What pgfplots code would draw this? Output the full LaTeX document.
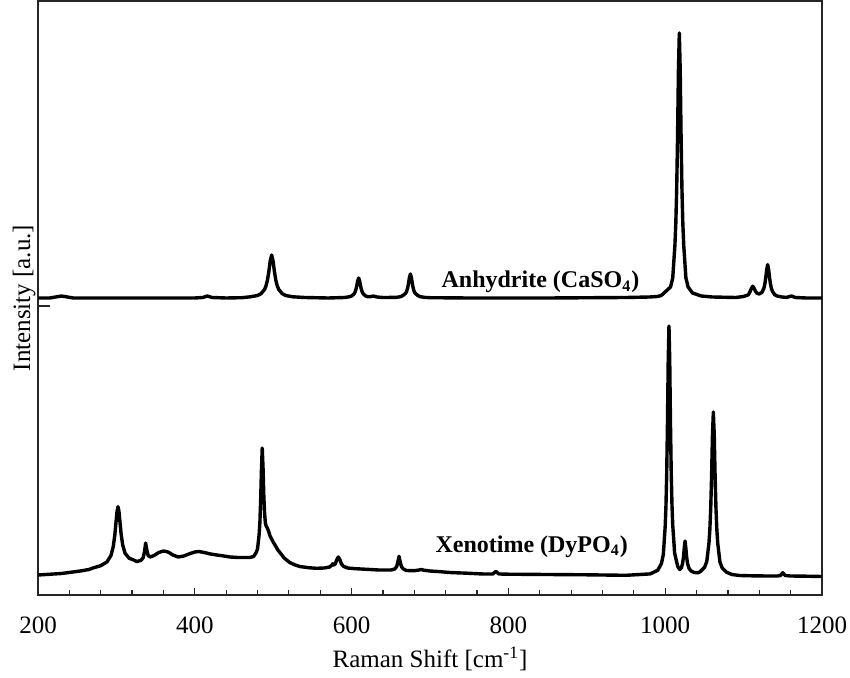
\documentclass[border=0pt]{standalone}
\usepackage{fontspec}
\setmainfont{Liberation Serif}
\usepackage{pgfplots}
\usepackage{pgfplotstable}
\pgfplotsset{compat=1.18}

% Raman spectrum of anhydrite (offset upwards)
\pgfplotstableread{
x y
200 297
215 297
230 299
245 297
300 297
400 297
410 297.5
416 299
422 297.5
440 297
460 297.3
471 298.2
480 299.5
484.5 301.3
489 305.6
490.8 309.1
492.6 314.6
494.4 323.2
496.2 334.1
498 340
499.8 334.1
501.6 323.2
503.4 314.6
505.2 309.1
507 305.6
511.5 301.3
516 299.5
525 298.2
540 297.5
570 297
591 297.5
597 298.2
600 299
603 301
604.2 302.6
605.4 305.2
606.6 309.2
607.8 314.2
609 317
610.2 314.2
611.4 309.2
612.6 305.2
613.8 302.6
615 301
618 299
621 298.2
625 298.5
628 299
632 298
640 297.5
657 297.6
663 298.4
666 299.8
669 301.8
670.2 303.7
671.4 306.8
672.6 311.6
673.8 317.7
675 321
676.2 317.7
677.4 311.6
678.6 306.8
679.8 303.7
681 301.8
684 299.8
687 298.4
693 297.6
700 297.3
750 297
850 297
950 297.5
980 298
990 298.5
995 299.5
1001.2 304
1006.8 308
1009.6 317
1012.4 350
1013.52 371.5
1014.64 405.7
1015.76 458.7
1016.88 525.4
1018 562
1019.12 525.4
1020.24 458.7
1021.36 405.7
1022.48 371.5
1023.6 350
1026.4 317
1029.2 308
1034.8 302
1046 299
1060 298
1090 297.5
1100 298.5
1104.6 299.7
1106.3 300.5
1108.1 303.1
1109.5 305.8
1111.6 308.8
1113.7 306.2
1115.1 303.8
1117 301.8
1120 301
1123.5 302.8
1125.9 306.9
1127.1 311
1128.3 317.6
1129.5 325.8
1130.7 330.4
1131.9 325.7
1133.1 317.4
1134.3 310.8
1135.5 306.5
1136.7 303.8
1139.7 300.3
1142.7 299
1148.7 298
1155 297.6
1161 299
1166 297.5
1180 297
1200 297
}\anhydrite

% Raman spectrum of xenotime
\pgfplotstableread{
x y
200 20
230 21.5
254 24
265 25.5
270 27
280 29.3
288 33.1
293 39.4
296 48.5
298 60.1
299.5 72.7
300.8 83.7
302 88.3
303.2 84
304.5 73.4
306 61.2
308 50.2
311 41.9
316 36.9
322 35
326 33.5
331 34.5
334 37
335.8 43
337.3 52
338.8 45
340.5 39.5
343 38
348 39.5
354 42.5
360 44
366 43
372 40
379 38
386 39
394 41.5
400 43
405 43.5
412 42.5
420 41
428 40
437 39
445 38
455 37.5
463 37.5
470 37.5
475 38.5
478 42
480 46
482 60
483 72
484 95
485 125
486 147
487 128
488 100
489 82
490 72
491 69
492.5 67
494 64
496 59
498 56
500 53
503 49
506 45
509 42
514 37
521 32.5
528 30
534 28.5
545 27.3
555 26.7
565 27
572 28
575 30
576 31.3
577 30
579 31
581 35
583 38
585 35.5
587 31
590 28.5
595 27
605 26.3
619 25.7
635 25
650 25
655 26
657.5 28.5
659 33
660.5 38.7
662 33
663.5 28.5
666 26
670 24.5
680 24.3
686 25
689 25.5
692 24.8
700 24
710 23.5
725 22.5
750 21.7
768 21
780 21
784 23.5
788 21
800 20.8
850 20.5
900 20.2
950 19.7
980.8 21.1
990.4 24.7
995.2 31.5
997.6 40.5
1000 69
1000.96 89.3
1001.92 121.5
1002.88 171.5
1003.84 234.5
1004.8 269
1005.76 234.7
1006.72 171.8
1007.68 122
1008.64 90
1009.6 70
1012 42
1014.4 33.7
1016 28.5
1018.5 25.5
1020.5 27
1022 31
1023.3 38
1024.3 47
1025.3 54
1026.3 47
1027.3 38
1028.6 31
1030.5 26.5
1033 24
1037 22.5
1042 22.3
1044.6 23.3
1050.2 27.7
1053 33.4
1055.8 51.8
1056.92 65.1
1058.04 86.3
1059.16 119
1060.28 160.4
1061.4 183
1062.52 160.4
1063.64 119
1064.76 86.3
1065.88 65.1
1067 51.8
1069.8 33
1072.6 27.2
1078.2 22.8
1085 20.5
1095 19.5
1110 19.2
1130 19
1143 19
1147 19.5
1150 22.3
1153 19.5
1160 19
1180 18.8
1200 18.5
}\xenotime

\begin{document}
\begin{tikzpicture}
\begin{axis}[
  name=ax,
  scale only axis,
  width=392pt, height=297pt,
  xmin=200, xmax=1200,
  ymin=0, ymax=594,
  axis line style={line width=0.6pt, black!85},
  xtick={200,400,...,1200},
  minor x tick num=4,
  xtick pos=bottom,
  tick align=inside,
  major tick length=3.5pt,
  minor tick length=2.3pt,
  every tick/.style={black!85, line width=0.6pt},
  ytick=\empty,
  /pgf/number format/assume math mode=true,
  /pgf/number format/1000 sep={},
  xticklabel style={font=\fontsize{12.5}{15}\selectfont, anchor=base, yshift=-19pt, inner xsep=0pt},
  xlabel={Raman Shift [cm\textsuperscript{-1}]},
  xlabel style={font=\fontsize{12.5}{15}\selectfont, at={(axis description cs:0.5,0)}, anchor=base, yshift=-36pt},
  ylabel={Intensity [a.u.]},
  ylabel style={font=\fontsize{12.5}{15}\selectfont, at={(axis description cs:-0.0102,0.5)}, anchor=base},
]
\addplot[black, line width=1.7pt, line join=round] table[x=x, y=y] {\anhydrite};
\addplot[black, line width=1.7pt, line join=round] table[x=x, y=y] {\xenotime};
% single inward tick on the intensity axis
\draw[black!85, line width=0.6pt] (axis cs:200,289) -- ++(6pt,0pt);
\node[anchor=base, font=\fontsize{12}{14}\selectfont\bfseries] at (axis cs:840.9,307.3) {Anhydrite (CaSO\textsubscript{4})};
\node[anchor=base, font=\fontsize{12}{14}\selectfont\bfseries] at (axis cs:829.7,43) {Xenotime (DyPO\textsubscript{4})};
\end{axis}
\useasboundingbox ([xshift=-19pt,yshift=-40pt]ax.south west) rectangle ([xshift=14pt,yshift=0.5pt]ax.north east);
\end{tikzpicture}
\end{document}
